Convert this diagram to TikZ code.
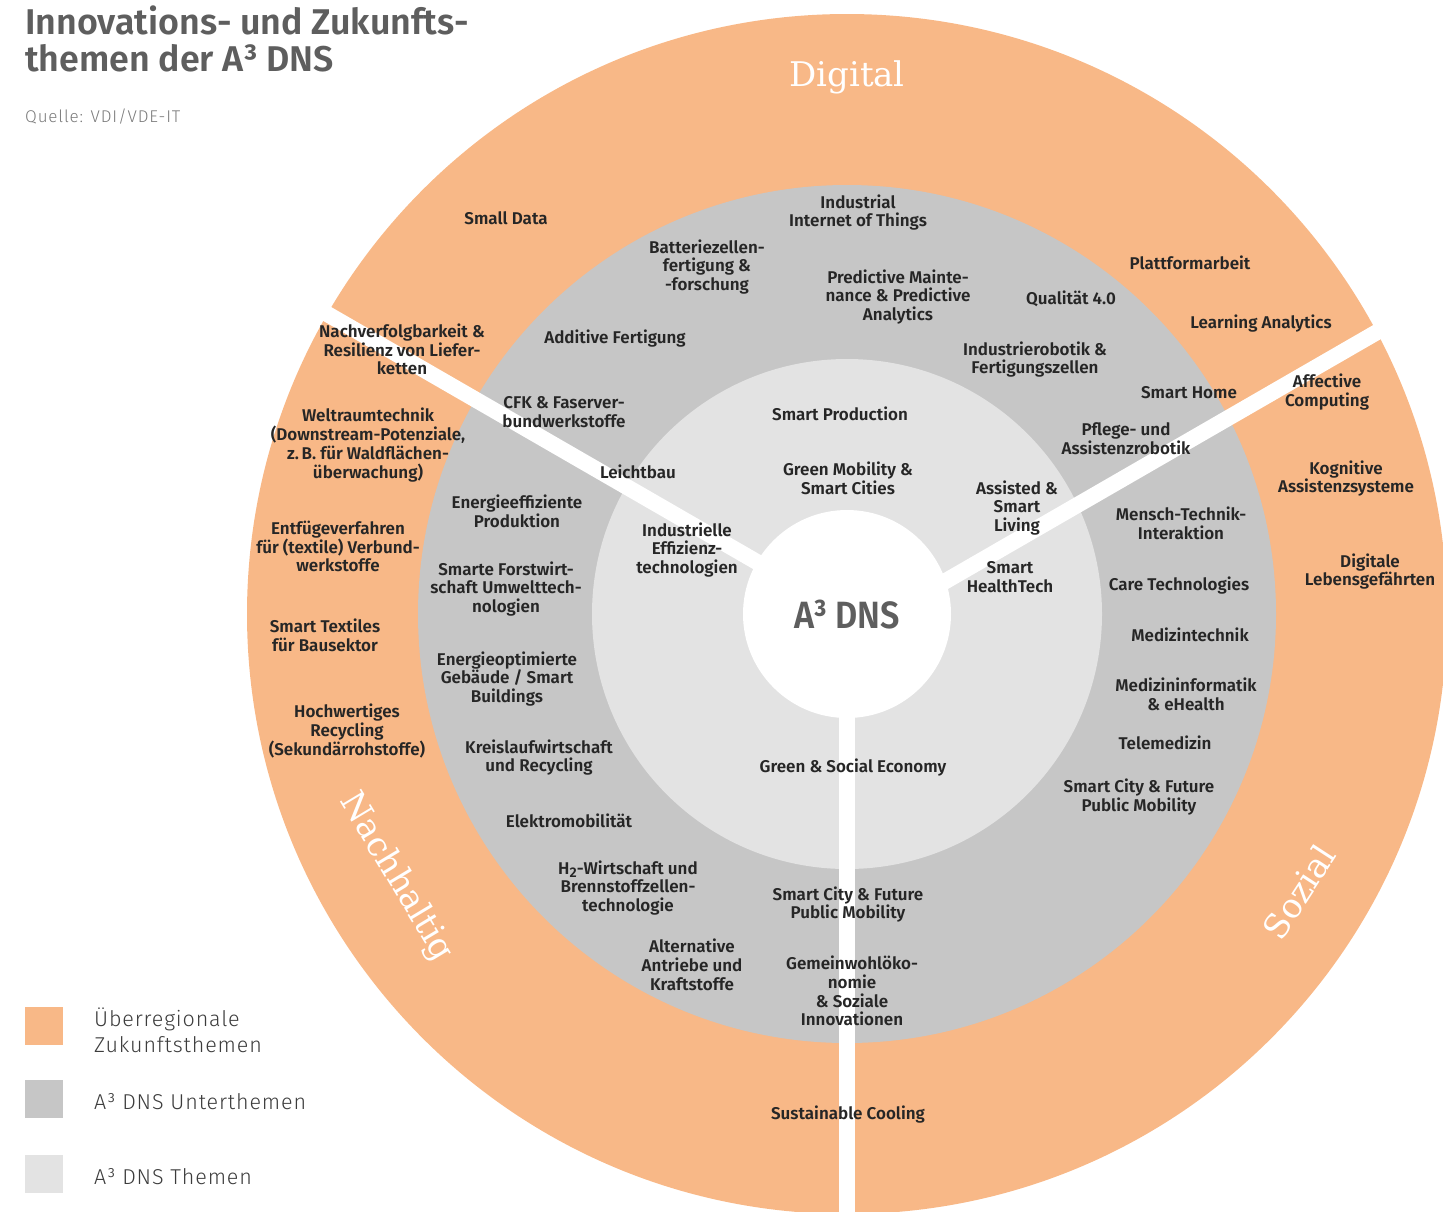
\documentclass[tikz,border=0pt]{standalone}
\usepackage{fontspec}
\setmainfont{Fira Sans}
\newfontfamily\lab{Fira Sans SemiBold}
\newfontfamily\labn{Fira Sans SemiBold}[FakeStretch=0.9]
\newfontfamily\lite{Fira Sans Light}[LetterSpace=4]
\newfontfamily\litesp{Fira Sans Light}[LetterSpace=5]
\newfontfamily\slab{DejaVu Serif}
\definecolor{ora}{HTML}{F8B887}
\definecolor{midg}{HTML}{C6C6C6}
\definecolor{lightg}{HTML}{E3E3E3}
\definecolor{ttlg}{HTML}{5E5E5E}
\definecolor{txt}{HTML}{262626}
\definecolor{srcg}{HTML}{7A7A7A}
\tikzset{
  lbl/.style={font=\lab\fontsize{17}{18.8}\selectfont, text=txt, align=center, inner sep=0pt},
  ringtitle/.style={font=\slab\fontsize{34}{38}\selectfont, text=white, inner sep=0pt},
  strip/.style={draw=white, line width=16pt},
  legbox/.style={minimum width=38pt, minimum height=38pt, inner sep=0pt, anchor=north west},
  legtext/.style={font=\lite\fontsize{21.5}{26}\selectfont, text=txt!90, align=left, inner sep=0pt, anchor=west}
}
\begin{document}
\begin{tikzpicture}[x=1pt,y=-1pt]
\useasboundingbox (0,0) rectangle (1443,1211);
\coordinate (C) at (847,614);
\coordinate (Cr) at (847,638);
\coordinate (Lend) at (154,214);
\coordinate (Rend) at (1540,238);
\coordinate (Bend) at (847,1300);
\begin{scope}
\clip (0,0) rectangle (1443,1211);
\fill[ora] (C) circle[radius=600pt];
\fill[midg] (C) circle[radius=429pt];
\fill[lightg] (C) circle[radius=255pt];
\draw[strip] (C) -- (Lend);
\draw[strip] (Cr) -- (Rend);
\draw[strip] (C) -- (Bend);
\fill[white] (C) circle[radius=104pt];
\end{scope}

% title
\node[font=\lab\fontsize{35.8}{37}\selectfont, text=ttlg, anchor=base west, inner sep=0pt] (title1) at (25,34) {Innovations- und Zukunfts-};
\node[font=\lab\fontsize{35.8}{37}\selectfont, text=ttlg, anchor=base west, inner sep=0pt] (title2) at (25,71) {themen der A³ DNS};
\node[font=\litesp\fontsize{17}{19}\selectfont, text=srcg, anchor=base west, inner sep=0pt] (src) at (25,122) {Quelle: VDI/VDE-IT};

% ring titles
\node[ringtitle] (rdig) at (847,77) {Digital};
\node[ringtitle, rotate=-59] (rnach) at (396,877) {Nachhaltig};
\node[ringtitle, rotate=57] (rsoz) at (1299,892) {Sozial};

% centre
\node[font=\labn\fontsize{38}{40}\selectfont, text=ttlg, inner sep=0pt] (core) at (847,615) {A³ DNS};

% orange ring labels
\node[lbl] (od1) at (506,218) {Small Data};
\node[lbl] (od2) at (1190,263) {Plattformarbeit};
\node[lbl] (od3) at (1261,324) {Learning Analytics};
\node[lbl] (os1) at (1327,392) {Affective\\Computing};
\node[lbl] (os2) at (1346,478.5) {Kognitive\\Assistenzsysteme};
\node[lbl] (os3) at (1370,571.5) {Digitale\\Lebensgefährten};
\node[lbl] (on1) at (402,349.5) {Nachverfolgbarkeit \&\\Resilienz von Liefer-\\ketten};
\node[lbl] (on2) at (368,445) {Weltraumtechnik\\(Downstream-Potenziale,\\z.\,B. für Waldflächen-\\überwachung)};
\node[lbl] (on3) at (338,546.5) {Entfügeverfahren\\für (textile) Verbund-\\werkstoffe};
\node[lbl] (on4) at (325,635) {Smart Textiles\\für Bausektor};
\node[lbl] (on5) at (347,731) {Hochwertiges\\Recycling\\(Sekundärrohstoffe)};
\node[lbl] (oc) at (848,1115) {Sustainable Cooling};

% grey ring labels
\node[lbl] (g1) at (858,212.5) {Industrial\\Internet of Things};
\node[lbl] (g2) at (707,267) {Batteriezellen-\\fertigung \&\\-forschung};
\node[lbl] (g3) at (898,297) {Predictive Mainte-\\nance \& Predictive\\Analytics};
\node[lbl] (g4) at (1071,299) {Qualität 4.0};
\node[lbl] (g5) at (615,339) {Additive Fertigung};
\node[lbl] (g6) at (1035,359.5) {Industrierobotik \&\\Fertigungszellen};
\node[lbl] (g7) at (1189,393) {Smart Home};
\node[lbl] (g8) at (564,412.5) {CFK \& Faserver-\\bundwerkstoffe};
\node[lbl] (g9) at (1126,438.5) {Pflege- und\\Assistenzrobotik};
\node[lbl] (g10) at (638,472) {Leichtbau};
\node[lbl] (g11) at (517,511.5) {Energieeffiziente\\Produktion};
\node[lbl] (g12) at (1181,523) {Mensch-Technik-\\Interaktion};
\node[lbl] (g13) at (506,589) {Smarte Forstwirt-\\schaft Umwelttech-\\nologien};
\node[lbl] (g14) at (1179,586) {Care Technologies};
\node[lbl] (g15) at (1190,635) {Medizintechnik};
\node[lbl] (g16) at (507,679) {Energieoptimierte\\Gebäude / Smart\\Buildings};
\node[lbl] (g17) at (1186,694) {Medizininformatik\\\& eHealth};
\node[lbl] (g18) at (539,757.5) {Kreislaufwirtschaft\\und Recycling};
\node[lbl] (g19) at (1165,743) {Telemedizin};
\node[lbl] (g20) at (1139,797) {Smart City \& Future\\Public Mobility};
\node[lbl] (g21) at (569,821) {Elektromobilität};
\node[lbl] (g22) at (628,888) {H\raisebox{-0.2em}{\fontsize{14}{14}\selectfont 2}-Wirtschaft und\\Brennstoffzellen-\\technologie};
\node[lbl] (g23) at (848,904.5) {Smart City \& Future\\Public Mobility};
\node[lbl] (g24) at (692,965) {Alternative\\Antriebe und\\Kraftstoffe};
\node[lbl] (g25) at (852,991) {Gemeinwohlöko-\\nomie\\\& Soziale\\Innovationen};

% light ring labels
\node[lbl] (l1) at (840,414) {Smart Production};
\node[lbl] (l2) at (848,478) {Green Mobility \&\\Smart Cities};
\node[lbl] (l3) at (687,550) {Industrielle\\Effizienz-\\technologien};
\node[lbl] (l4) at (1017,508) {Assisted \&\\Smart\\Living};
\node[lbl] (l5) at (1010,577.5) {Smart\\HealthTech};
\node[lbl] (l6) at (853,768) {Green \& Social Economy};

% legend
\node[legbox, fill=ora] (k1) at (25,1007) {};
\node[legbox, fill=midg] (k2) at (25,1080) {};
\node[legbox, fill=lightg] (k3) at (25,1155) {};
\node[legtext] (t1) at (94,1030) {Überregionale\\Zukunftsthemen};
\node[legtext] (t2) at (94,1102) {A³ DNS Unterthemen};
\node[legtext] (t3) at (94,1177) {A³ DNS Themen};
\end{tikzpicture}
\end{document}
